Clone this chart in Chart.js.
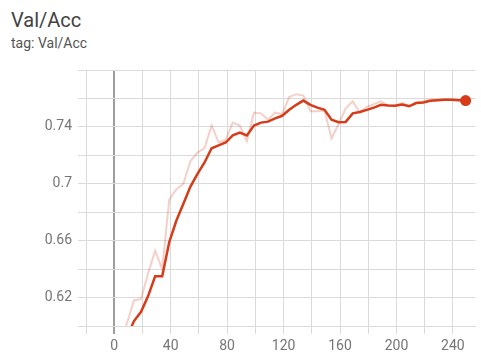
<!DOCTYPE html>
<html>
<head>
<meta charset="utf-8">
<script src="https://cdn.jsdelivr.net/npm/chart.js@4"></script>
<style>
  html, body { margin: 0; padding: 0; background: #fff; }
  #wrap { position: relative; width: 481px; height: 356px; overflow: hidden; font-family: Roboto, "Noto Sans", sans-serif; }
  #title { position: absolute; left: 11px; top: 10px; font-size: 20px; line-height: 20px; color: #424242; }
  #tag { position: absolute; left: 11px; top: 36px; font-size: 14px; line-height: 14px; color: #555; }
  canvas { position: absolute; left: 0; top: 0; }
</style>
</head>
<body>
<div id="wrap">
  <div id="title">Val/Acc</div>
  <div id="tag">tag: Val/Acc</div>
  <canvas id="c" width="481" height="356"></canvas>
</div>
<script>
// Training steps at which validation accuracy was logged
const steps = [4, 9, 14, 19, 24, 29, 34, 39, 44, 49, 54, 59, 64, 69, 74, 79, 84, 89, 94, 99,
  104, 109, 114, 119, 124, 129, 134, 139, 144, 149, 154, 159, 164, 169, 174, 179, 184, 189, 194, 199,
  204, 209, 214, 219, 224, 229, 234, 239, 244, 249];

// Raw accuracy values
const rawAcc = [0.585, 0.602, 0.618, 0.619, 0.637, 0.653, 0.640, 0.689, 0.696, 0.700,
  0.716, 0.722, 0.725, 0.741, 0.729, 0.731, 0.743, 0.741, 0.730, 0.750,
  0.7495, 0.745, 0.750, 0.749, 0.761, 0.763, 0.762, 0.751, 0.751, 0.7515,
  0.732, 0.742, 0.753, 0.758, 0.750, 0.754, 0.756, 0.758, 0.755, 0.755,
  0.757, 0.755, 0.757, 0.758, 0.759, 0.759, 0.7595, 0.759, 0.759, 0.7585];

// Smoothed accuracy values
const smoothAcc = [0.580, 0.592, 0.6035, 0.610, 0.621, 0.635, 0.635, 0.659, 0.674, 0.686,
  0.698, 0.707, 0.715, 0.725, 0.727, 0.729, 0.734, 0.736, 0.734, 0.741,
  0.743, 0.7437, 0.746, 0.7478, 0.752, 0.7555, 0.7585, 0.7555, 0.7535, 0.752,
  0.745, 0.7433, 0.7435, 0.7495, 0.7505, 0.752, 0.7535, 0.7555, 0.755, 0.7548,
  0.7558, 0.7545, 0.7568, 0.7572, 0.7583, 0.7587, 0.759, 0.759, 0.7588, 0.7585];

// Axis tick values that carry a label
const xTickLabels = [0, 40, 80, 120, 160, 200, 240];
const yTickLabels = [0.62, 0.66, 0.70, 0.74];

const lineColor = 'rgb(214, 60, 26)';
const rawColor = 'rgba(214, 60, 26, 0.24)';
const gridColor = '#dadada';

const toPoints = (vals) => steps.map((s, i) => ({ x: s, y: vals[i] }));
const lastIdx = steps.length - 1;

new Chart(document.getElementById('c'), {
  type: 'line',
  data: {
    datasets: [
      {
        label: 'raw',
        data: toPoints(rawAcc),
        borderColor: rawColor,
        borderWidth: 2,
        pointRadius: 0,
        tension: 0,
        order: 2
      },
      {
        label: 'smoothed',
        data: toPoints(smoothAcc),
        borderColor: lineColor,
        backgroundColor: lineColor,
        borderWidth: 2.5,
        pointRadius: (ctx) => ctx.dataIndex === lastIdx ? 5.5 : 0,
        pointBorderWidth: 0,
        pointHoverRadius: 0,
        tension: 0,
        order: 1
      }
    ]
  },
  options: {
    responsive: false,
    animation: false,
    events: [],
    layout: { padding: { top: 70, right: 0, left: 0, bottom: 0 } },
    plugins: { legend: { display: false }, tooltip: { enabled: false } },
    scales: {
      x: {
        type: 'linear',
        min: -20,
        max: 256,
        // grid every 20 steps, from the left edge up to the last full interval
        afterBuildTicks: (scale) => {
          const t = [];
          for (let v = -20; v <= 240; v += 20) t.push({ value: v });
          scale.ticks = t;
        },
        afterFit: (scale) => { scale.height = 30; },
        ticks: {
          stepSize: 20,
          includeBounds: false,
          autoSkip: false,
          maxRotation: 0,
          padding: 4,
          color: '#757575',
          font: { family: 'Roboto', size: 14 },
          callback: (v) => xTickLabels.includes(Math.round(v)) ? String(Math.round(v)) : ''
        },
        grid: {
          color: (ctx) => ctx.tick && ctx.tick.value === 0 ? '#9e9e9e' : gridColor,
          lineWidth: (ctx) => ctx.tick && ctx.tick.value === 0 ? 2 : 1,
          tickLength: 8
        },
        border: { color: gridColor, width: 1 }
      },
      y: {
        type: 'linear',
        min: 0.6,
        max: 0.78,
        afterFit: (scale) => { scale.width = 86; },
        ticks: {
          stepSize: 0.02,
          padding: 6,
          color: '#757575',
          font: { family: 'Roboto', size: 14 },
          callback: (v) => yTickLabels.some(t => Math.abs(t - v) < 1e-6) ? String(parseFloat(v.toFixed(2))) : ''
        },
        grid: { color: gridColor, lineWidth: 1, tickLength: 8 },
        border: { color: gridColor, width: 1 }
      }
    }
  }
});
</script>
</body>
</html>
